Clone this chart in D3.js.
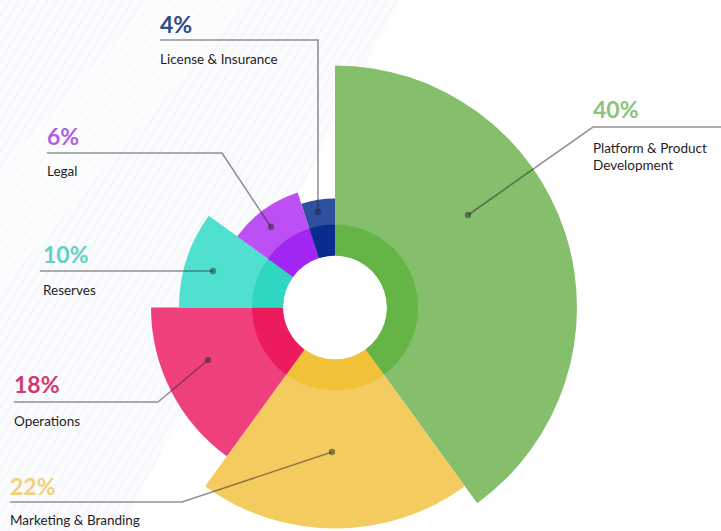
<!DOCTYPE html>
<html>
<head>
<meta charset="utf-8">
<script src="https://cdn.jsdelivr.net/npm/d3@7"></script>
<style>
  html, body { margin: 0; padding: 0; background: #fff; }
  svg { display: block; }
</style>
</head>
<body>
<div id="chart"></div>
<script>
// ---- data ----
const categories = ["Platform & Product Development", "Marketing & Branding", "Operations", "Reserves", "Legal", "License & Insurance"];
const percentLabels = ["40%", "22%", "18%", "10%", "6%", "4%"];
const percentValues = [40, 22, 18, 10, 6, 4];
// angular share of each slice as drawn in the picture
const angleShares = [40, 20, 15, 10, 10, 5];
// radial extent of each slice (on a 0-100 radial scale)
const radialValues = [96.8, 88.4, 73.6, 62.4, 48.4, 43.6];

// ---- styles ----
const outerColors = ["#86bf6b", "#f3cb5e", "#ef407d", "#4fe0cf", "#bd50f5", "#2f4f9f"];
const ringColors  = ["#64b546", "#f2c13a", "#ec1b5d", "#2fd6c1", "#a126f2", "#0b2c8f"];
const labelColors = ["#8cc279", "#f1d27a", "#d2386f", "#5ed3c3", "#b25ee0", "#2e4a8a"];

const W = 721, H = 531;
const cx = 335, cy = 307.5;
const holeR = 52, ringR = 83;

// label layout
const labelLayout = [
  {tx: 593, py: 118, ly: 127, elbow: [593, 127], lineTo: 721, dot: [468, 215], lines: ["Platform & Product", "Development"], ty: 153},
  {tx: 10,  py: 495, ly: 502, elbow: [182, 502], lineFrom: 10, dot: [332, 452], lines: ["Marketing & Branding"], ty: 525},
  {tx: 14,  py: 393, ly: 402, elbow: [158, 402], lineFrom: 14, dot: [208, 360], lines: ["Operations"], ty: 426},
  {tx: 43,  py: 263, ly: 271, elbow: [150, 271], lineFrom: 40, dot: [213, 271], lines: ["Reserves"], ty: 295},
  {tx: 47,  py: 145, ly: 153, elbow: [222, 153], lineFrom: 47, dot: [271, 227], lines: ["Legal"], ty: 176},
  {tx: 160, py: 33,  ly: 40,  elbow: [318, 40],  lineFrom: 160, dot: [318, 212], lines: ["License & Insurance"], ty: 64}
];

const svg = d3.select("#chart").append("svg")
  .attr("width", W).attr("height", H);

// background stripes
const defs = svg.append("defs");
const pat = defs.append("pattern")
  .attr("id", "stripes").attr("patternUnits", "userSpaceOnUse")
  .attr("width", 8).attr("height", 8)
  .attr("patternTransform", "rotate(32)");
pat.append("rect").attr("width", 8).attr("height", 8).attr("fill", "#fafbfd");
pat.append("line").attr("x1", 0).attr("y1", 0).attr("x2", 0).attr("y2", 8)
  .attr("stroke", "#eceef4").attr("stroke-width", 1.4);

const grad = defs.append("linearGradient")
  .attr("id", "fade").attr("gradientUnits", "userSpaceOnUse")
  .attr("x1", 0).attr("y1", 200).attr("x2", 330).attr("y2", 400);
grad.append("stop").attr("offset", 0).attr("stop-color", "#fff").attr("stop-opacity", 1);
grad.append("stop").attr("offset", 0.7).attr("stop-color", "#fff").attr("stop-opacity", 0.9);
grad.append("stop").attr("offset", 1).attr("stop-color", "#fff").attr("stop-opacity", 0);
const mask = defs.append("mask").attr("id", "bgmask");
mask.append("rect").attr("width", W).attr("height", H).attr("fill", "url(#fade)");

svg.append("path")
  .attr("d", "M0,0 L400,0 L120,531 L0,531 Z")
  .attr("fill", "url(#stripes)")
  .attr("mask", "url(#bgmask)");
svg.append("path")
  .attr("d", "M150,0 L250,0 L0,290 L0,170 Z")
  .attr("fill", "#ffffff").attr("opacity", 0.45);

// scales & pie
const rScale = d3.scaleLinear().domain([0, 100]).range([0, 250]);
const pie = d3.pie().sort(null).value(d => d.share);
const rows = categories.map((c, i) => ({
  name: c, share: angleShares[i], r: radialValues[i], i
}));
const arcsData = pie(rows);

const g = svg.append("g").attr("transform", `translate(${cx},${cy})`);

const outerArc = d3.arc()
  .innerRadius(holeR)
  .outerRadius(d => rScale(d.data.r));
const ringArc = d3.arc()
  .innerRadius(holeR)
  .outerRadius(ringR);

g.selectAll("path.outer").data(arcsData).join("path")
  .attr("class", "outer")
  .attr("d", outerArc)
  .attr("fill", d => outerColors[d.data.i]);

g.selectAll("path.ring").data(arcsData).join("path")
  .attr("class", "ring")
  .attr("d", ringArc)
  .attr("fill", d => ringColors[d.data.i]);

// leader lines and labels
const lineColor = "rgba(40,40,40,0.5)";
labelLayout.forEach((L, i) => {
  const start = L.lineTo !== undefined ? [L.lineTo, L.ly] : [L.lineFrom, L.ly];
  const pts = [start, L.elbow, L.dot];
  svg.append("path")
    .attr("d", d3.line()(pts))
    .attr("fill", "none")
    .attr("stroke", lineColor)
    .attr("stroke-width", 1.6);
  svg.append("circle")
    .attr("cx", L.dot[0]).attr("cy", L.dot[1]).attr("r", 3.2)
    .attr("fill", lineColor);

  svg.append("text")
    .attr("x", L.tx).attr("y", L.py)
    .attr("font-family", "Lato, 'Open Sans', sans-serif")
    .attr("font-weight", 700)
    .attr("font-size", 23)
    .attr("fill", labelColors[i])
    .text(percentLabels[i]);

  const t = svg.append("text")
    .attr("x", L.tx).attr("y", L.ty)
    .attr("font-family", "Lato, 'Open Sans', sans-serif")
    .attr("font-size", 13.5)
    .attr("fill", "#1e1e1e");
  L.lines.forEach((ln, k) => {
    t.append("tspan").attr("x", L.tx).attr("dy", k === 0 ? 0 : 17).text(ln);
  });
});
</script>
</body>
</html>
